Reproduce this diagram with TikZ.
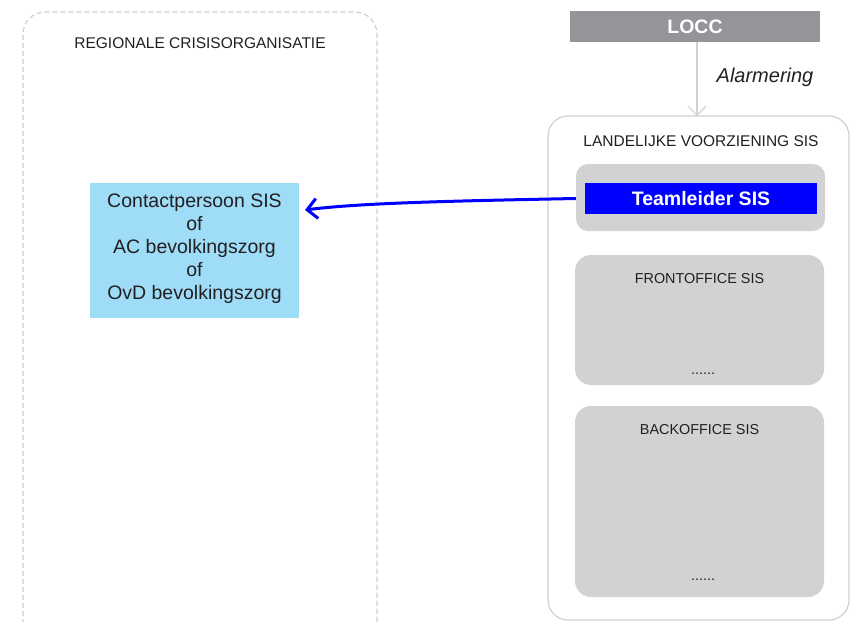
\documentclass[tikz,border=0pt]{standalone}
\usepackage{fontspec}
\setmainfont{Liberation Sans}
\usetikzlibrary{arrows.meta}
\definecolor{loccgray}{HTML}{939598}
\definecolor{boxgray}{HTML}{D1D2D4}
\definecolor{linegray}{HTML}{CFCFCF}
\definecolor{lightblue}{HTML}{9EDCF7}
\definecolor{txt}{HTML}{231F20}
\begin{document}
\begin{tikzpicture}[x=1pt,y=-1pt,
  caption/.style={font=\fontsize{14.4}{16}\selectfont, text=txt},
  bigcaption/.style={font=\fontsize{15.5}{17}\selectfont, text=txt},
  graybox/.style={fill=boxgray, draw=none, rounded corners=16pt},
  bodytext/.style={font=\fontsize{19.5}{23}\selectfont, text=txt, align=center}]
\useasboundingbox (0,0) rectangle (851,621);
% left dashed region
\draw[linegray, line width=1.2pt, dash pattern=on 5pt off 3pt, rounded corners=22pt]
  (23,640) -- (23,12) -- (377,12) -- (377,640);
\node[bigcaption] (regtitle) at (200,43) {REGIONALE CRISISORGANISATIE};
% right region
\draw[linegray, line width=1.2pt, rounded corners=20pt] (548,116) rectangle (849,620);
\node[bigcaption] (landtitle) at (701,141) {LANDELIJKE VOORZIENING SIS};
% LOCC
\node[fill=loccgray, minimum width=250pt, minimum height=31pt, inner sep=0pt,
  text=white, font=\fontsize{19.5}{22}\selectfont\bfseries] (locc) at (695,26.5) {LOCC};
\coordinate (landtop) at (697,116);
\draw[linegray, line width=1.2pt, -{Straight Barb[length=9pt,width=18pt]}] (locc.south -| landtop) -- (landtop);
\node[font=\fontsize{20}{22}\selectfont\itshape, text=txt] (alarm) at (765,77) {Alarmering};
% teamleider
\node[graybox, rounded corners=12pt, minimum width=249pt, minimum height=67pt] (tlbox) at (700.5,197.5) {};
\node[fill=blue, minimum width=232pt, minimum height=31pt, inner sep=0pt,
  text=white, font=\fontsize{19.5}{22}\selectfont\bfseries] (tl) at (701,198.5) {Teamleider SIS};
% frontoffice
\node[graybox, minimum width=249pt, minimum height=130pt] (front) at (699.5,320) {};
\node[caption] (fronttitle) at (699.5,279) {FRONTOFFICE SIS};
\node[caption] (frontdots) at (703,374) {......};
% backoffice
\node[graybox, minimum width=249pt, minimum height=191pt] (back) at (699.5,501.5) {};
\node[caption] (backtitle) at (699.5,430) {BACKOFFICE SIS};
\node[caption] (backdots) at (703,580) {......};
% contact
\node[fill=lightblue, minimum width=209pt, minimum height=135pt, inner sep=0pt] (contact) at (194.5,250.5) {};
\node[bodytext] (contacttext) at (194.5,249) {Contactpersoon SIS\\of\\AC bevolkingszorg\\of\\OvD bevolkingszorg};
\coordinate (arrowend) at (305,210);
\draw[blue, line width=3pt, -{Straight Barb[length=10pt,width=20pt]}]
  (tlbox.west |- tl.west) .. controls (450,201) and (360,203) .. (arrowend);
\end{tikzpicture}
\end{document}
